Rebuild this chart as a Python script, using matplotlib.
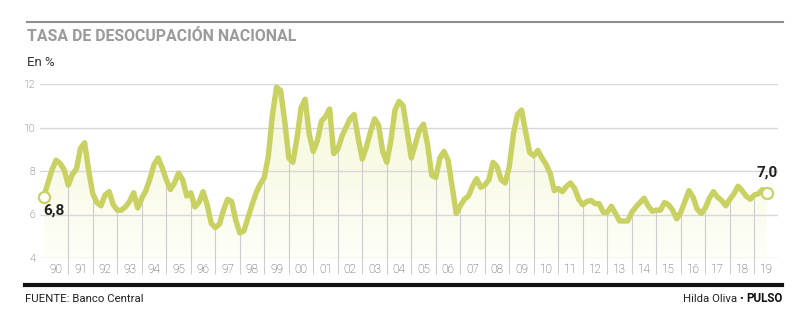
import numpy as np
import pandas as pd
import matplotlib
matplotlib.use("Agg")
import matplotlib.pyplot as plt
from matplotlib.lines import Line2D

plt.rcParams['font.family'] = ['Roboto', 'DejaVu Sans']

# Tasa de desocupación nacional (%), trimestres móviles, un dato cada dos meses
rate = [
    6.8, 7.45, 8.05, 8.5, 8.35, 8.05,      # 1990
    7.35, 7.85, 8.1, 9.05, 9.3, 8.0,       # 1991
    6.95, 6.55, 6.4, 6.9, 7.05, 6.45,      # 1992
    6.2, 6.2, 6.35, 6.6, 7.0, 6.3,         # 1993
    6.75, 7.1, 7.65, 8.3, 8.6, 8.15,       # 1994
    7.6, 7.15, 7.45, 7.9, 7.6, 6.85,       # 1995
    7.0, 6.35, 6.55, 7.05, 6.45, 5.6,      # 1996
    5.4, 5.55, 6.2, 6.7, 6.6, 5.75,        # 1997
    5.15, 5.25, 5.85, 6.45, 7.0, 7.4,      # 1998
    7.7, 8.7, 10.6, 11.85, 11.7, 10.3,     # 1999
    8.6, 8.4, 9.5, 10.9, 11.3, 9.7,        # 2000
    8.9, 9.4, 10.3, 10.5, 10.85, 8.8,      # 2001
    9.0, 9.6, 10.0, 10.4, 10.6, 9.5,       # 2002
    8.55, 9.1, 9.8, 10.4, 10.1, 8.9,       # 2003
    8.4, 9.4, 10.8, 11.2, 11.0, 9.8,       # 2004
    8.6, 9.25, 9.9, 10.15, 9.2, 7.8,       # 2005
    7.7, 8.6, 8.9, 8.5, 7.3, 6.05,         # 2006
    6.4, 6.7, 6.85, 7.3, 7.65, 7.25,       # 2007
    7.35, 7.6, 8.4, 8.2, 7.6, 7.45,        # 2008
    8.2, 9.7, 10.6, 10.8, 9.8, 8.85,       # 2009
    8.7, 8.95, 8.6, 8.3, 7.9, 7.1,         # 2010
    7.2, 7.05, 7.3, 7.45, 7.2, 6.7,        # 2011
    6.45, 6.6, 6.65, 6.5, 6.5, 6.1,        # 2012
    6.1, 6.38, 6.05, 5.7, 5.7, 5.7,        # 2013
    6.1, 6.35, 6.55, 6.75, 6.4, 6.15,      # 2014
    6.2, 6.2, 6.55, 6.45, 6.2, 5.8,        # 2015
    6.1, 6.6, 7.1, 6.8, 6.25, 6.05,        # 2016
    6.3, 6.75, 7.05, 6.8, 6.65, 6.4,       # 2017
    6.7, 6.95, 7.3, 7.1, 6.85, 6.7,        # 2018
    6.9, 6.95, 7.15, 7.0,                  # 2019
]
dates = pd.date_range('1990-01-01', periods=len(rate), freq='2MS')
t = np.asarray(dates.year + (dates.month - 1) / 12.0, dtype=float)
rate = np.asarray(rate)

years = list(range(1990, 2020))
year_labels = [f"{y % 100:02d}" for y in years]
yticks = [4, 6, 8, 10, 12]
first_label, last_label = '6,8', '7,0'

LINE = '#c9d163'
W, H = 800, 328


def fx(px):
    return px / W


def fy(py):
    return 1 - py / H


fig = plt.figure(figsize=(W / 100, H / 100), dpi=100)
fig.patch.set_facecolor('white')

ax = fig.add_axes([fx(40), fy(258), fx(778) - fx(40), fy(84) - fy(258)])
px_per_year = 24.5
x0 = 1990 + (40 - 43.8) / px_per_year
x1 = 1990 + (778 - 43.8) / px_per_year
ax.set_xlim(x0, x1)
ax.set_ylim(4, 12)
for s in ax.spines.values():
    s.set_visible(False)
ax.set_facecolor('none')

# horizontal grid
ax.set_yticks(yticks)
ax.set_yticklabels([str(v) for v in yticks])
ax.yaxis.grid(True, color='#d8d8d8', lw=1.0, zorder=0)
ax.tick_params(axis='y', length=0, pad=3.5, labelsize=7.5, labelcolor='#444444')

# year labels centred in each year
ax.set_xticks([y + 0.5 for y in years])
ax.set_xticklabels(year_labels)
ax.tick_params(axis='x', length=0, pad=3.5, labelsize=8.5, labelcolor='#444444')
for lab in ax.get_xticklabels() + ax.get_yticklabels():
    lab.set_fontweight('light')

# soft gradient fill under the curve
poly = ax.fill_between(t, rate, 4, facecolor='none', edgecolor='none')
top = np.array([0.958, 0.970, 0.845])
bot = np.array([0.995, 0.997, 0.972])
g = np.linspace(0, 1, 256)[:, None]
img = bot * (1 - g[..., None]) + top * g[..., None]
img = np.repeat(img, 2, axis=1)
im = ax.imshow(img, extent=[x0, x1, 4, 12], origin='lower', aspect='auto',
               zorder=1, interpolation='bilinear')
im.set_clip_path(poly.get_paths()[0], transform=ax.transData)

# drop lines at the start of each year
ybot = 12 - (274 - 84) / 21.75
mask = (dates.month == 1) & (dates.year > 1990)
ax.vlines(t[mask], ybot, rate[mask], color='#cdcdcd', lw=0.8, zorder=2,
          clip_on=False)

ax.plot(t, rate, color=LINE, lw=3.9, solid_joinstyle='round',
        solid_capstyle='round', zorder=4, clip_on=False)
ax.plot([t[0], t[-1]], [rate[0], rate[-1]], 'o', ms=8, mfc='white',
        mec=LINE, mew=1.6, zorder=5, clip_on=False)

ax.annotate(first_label, (t[0], rate[0]), xytext=(-0.6, -9.5),
            textcoords='offset points', ha='left', va='center',
            fontsize=11, fontweight='bold', color='#222222')
ax.annotate(last_label, (t[-1], rate[-1]), xytext=(0.3, 14.5),
            textcoords='offset points', ha='center', va='center',
            fontsize=11, fontweight='bold', color='#222222')

# header
fig.add_artist(Line2D([fx(27), fx(783)], [fy(22), fy(22)], color='#8e8e8e', lw=1.5))
fig.text(fx(27), fy(41), 'TASA DE DESOCUPACIÓN NACIONAL', fontsize=11.4,
         fontweight='bold', color='#9b9b9b', va='baseline', ha='left')
fig.text(fx(27), fy(66.5), 'En %', fontsize=9.5, color='#333333',
         va='baseline', ha='left')

# footer
fig.add_artist(Line2D([fx(25), fx(782)], [fy(284.7), fy(284.7)], color='#111111', lw=3))
fig.text(fx(25), fy(302), 'FUENTE: Banco Central', fontsize=8.2,
         color='#222222', va='baseline', ha='left')
pulso = fig.text(fx(783), fy(302), 'PULSO', fontsize=8.4,
                 fontweight='bold', color='#111111', va='baseline', ha='right')
fig.canvas.draw()
bb = pulso.get_window_extent()
fig.text(bb.x0 / W, fy(302), 'Hilda Oliva \u2022 ', fontsize=8.2,
         color='#222222', va='baseline', ha='right')

fig.savefig('out.png', dpi=100, facecolor='white')
